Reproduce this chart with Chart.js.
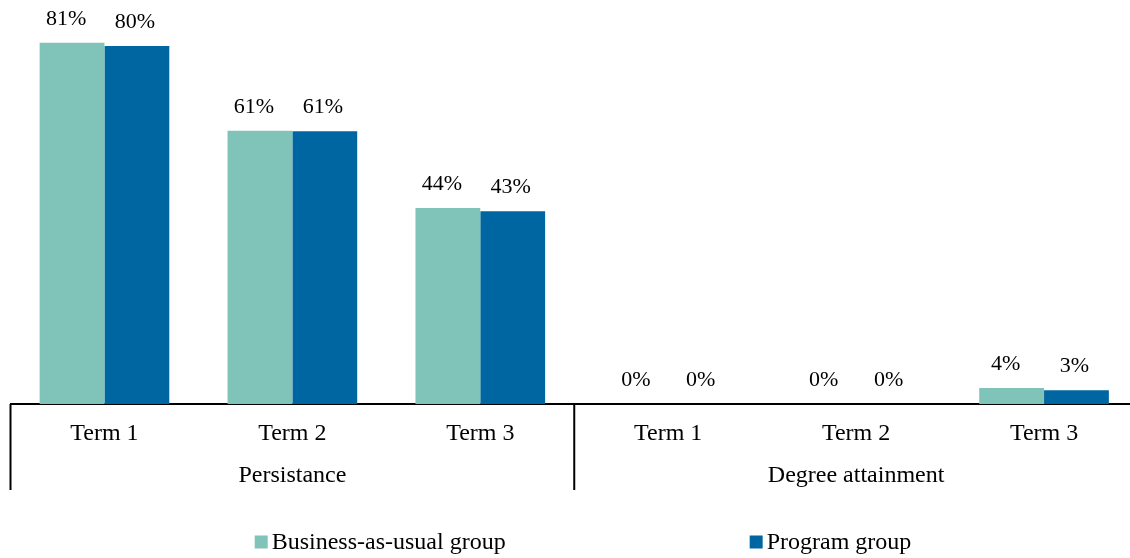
<!DOCTYPE html>
<html>
<head>
<meta charset="utf-8">
<script src="https://cdn.jsdelivr.net/npm/chart.js@4/dist/chart.umd.min.js"></script>
<style>
  html, body { margin: 0; padding: 0; background: #fff; overflow: hidden; }
  #wrap { width: 1140px; height: 558px; position: relative; }
</style>
</head>
<body>
<div id="wrap"><canvas id="barChart"></canvas></div>
<script>
    var terms = ["Term 1", "Term 2", "Term 3"];
    var groups = ["Persistance", "Degree attainment"];
    var seriesNames = ["Business-as-usual group", "Program group"];
    var businessAsUsual = [80.9, 61.2, 43.9, 0, 0, 3.6];
    var programGroup = [80.2, 61.1, 43.2, 0, 0, 3.1];
    var colors = ["#80C4B9", "#0066A2"];

    var font = "'Liberation Serif', 'Times New Roman', serif";

    var labels = [];
    groups.forEach(function(g) {
        terms.forEach(function(t) { labels.push(t); });
    });

    // small horizontal nudge of the value labels, per series
    var labelShift = [-6, -2];

    var extras = {
        id: 'extras',
        afterDatasetsDraw: function(chart) {
            var ctx = chart.ctx;
            var x = chart.scales.x;
            var area = chart.chartArea;
            ctx.save();
            ctx.fillStyle = "#000";
            ctx.font = "22px " + font;
            ctx.textAlign = "center";
            ctx.textBaseline = "middle";

            // value labels above bars
            chart.data.datasets.forEach(function(ds, i) {
                chart.getDatasetMeta(i).data.forEach(function(bar, j) {
                    var dx = ds.data[j] > 0 ? labelShift[i] : 0;
                    ctx.fillText(Math.round(ds.data[j]) + "%", bar.x + dx, bar.y - 24);
                });
            });

            // group separators and group labels
            var step = x.getPixelForValue(1) - x.getPixelForValue(0);
            ctx.strokeStyle = "#000";
            ctx.lineWidth = 2;
            for (var g = 0; g <= groups.length; g++) {
                var px = x.getPixelForValue(g * terms.length) - step / 2;
                ctx.beginPath();
                ctx.moveTo(px, area.bottom);
                ctx.lineTo(px, 490);
                ctx.stroke();
            }
            ctx.font = "24px " + font;
            groups.forEach(function(name, g) {
                var first = x.getPixelForValue(g * terms.length);
                var last = x.getPixelForValue(g * terms.length + terms.length - 1);
                ctx.fillText(name, (first + last) / 2, 476);
            });

            // legend
            var sq = 13, gapText = 4, gapItems = 244, ly = 542;
            var widths = seriesNames.map(function(n) { return sq + gapText + ctx.measureText(n).width; });
            var total = widths[0] + gapItems + widths[1];
            var lx = 583 - total / 2;
            ctx.textAlign = "left";
            seriesNames.forEach(function(n, i) {
                ctx.fillStyle = colors[i];
                ctx.fillRect(lx, ly - sq / 2, sq, sq);
                ctx.fillStyle = "#000";
                ctx.fillText(n, lx + sq + gapText, ly + 1);
                lx += widths[i] + gapItems;
            });
            ctx.restore();
        }
    };

    window.onload = function() {
        new Chart("barChart", {
            type: 'bar',
            data: {
                labels: labels,
                datasets: [{
                    label: seriesNames[0],
                    data: businessAsUsual,
                    backgroundColor: colors[0]
                }, {
                    label: seriesNames[1],
                    data: programGroup,
                    backgroundColor: colors[1]
                }]
            },
            options: {
                responsive: true,
                maintainAspectRatio: false,
                animation: false,
                devicePixelRatio: 1,
                datasets: {
                    bar: { barPercentage: 1, categoryPercentage: 0.69 }
                },
                layout: { padding: { left: 10.5, right: 2, top: 0, bottom: 0 } },
                plugins: {
                    legend: { display: false },
                    tooltip: { enabled: false }
                },
                scales: {
                    x: {
                        grid: { display: false },
                        border: { display: true, color: "#000", width: 2 },
                        ticks: {
                            color: "#000",
                            padding: 7,
                            font: { family: font, size: 24 }
                        },
                        afterFit: function(scale) { scale.height = 154; }
                    },
                    y: {
                        display: false,
                        min: 0,
                        max: 90.5
                    }
                }
            },
            plugins: [extras]
        });
    };
</script>
</body>
</html>
